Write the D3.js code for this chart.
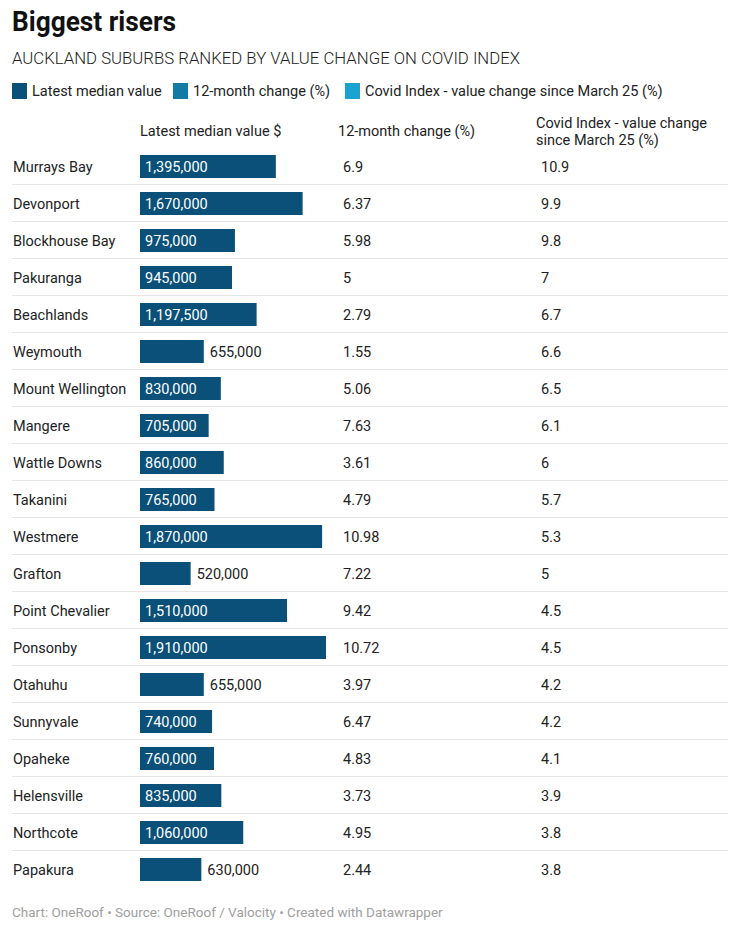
<!DOCTYPE html>
<html><head><meta charset="utf-8">
<script src="https://cdn.jsdelivr.net/npm/d3@7"></script>
<style>
body{margin:0;background:#fff;}
text{font-family:Roboto,"Noto Sans",sans-serif;}
</style></head>
<body><svg id="c" width="740" height="936"></svg>
<script>
const suburbs = ["Murrays Bay","Devonport","Blockhouse Bay","Pakuranga","Beachlands","Weymouth","Mount Wellington","Mangere","Wattle Downs","Takanini","Westmere","Grafton","Point Chevalier","Ponsonby","Otahuhu","Sunnyvale","Opaheke","Helensville","Northcote","Papakura"];
const medianValue = [1395000,1670000,975000,945000,1197500,655000,830000,705000,860000,765000,1870000,520000,1510000,1910000,655000,740000,760000,835000,1060000,630000];
const change12 = ["6.9","6.37","5.98","5","2.79","1.55","5.06","7.63","3.61","4.79","10.98","7.22","9.42","10.72","3.97","6.47","4.83","3.73","4.95","2.44"];
const covidIndex = ["10.9","9.9","9.8","7","6.7","6.6","6.5","6.1","6","5.7","5.3","5","4.5","4.5","4.2","4.2","4.1","3.9","3.8","3.8"];
const legendLabels = ["Latest median value","12-month change (%)","Covid Index - value change since March 25 (%)"];
const legendColors = ["#0b5078","#137aa4","#1aa3d1"];

const svg = d3.select("#c");
const fmt = d3.format(",");

svg.append("text").attr("x",12).attr("y",31).attr("font-size",28).attr("font-weight",700)
  .attr("fill","#111").attr("textLength",164).attr("lengthAdjust","spacingAndGlyphs").text("Biggest risers");
svg.append("text").attr("x",12).attr("y",64).attr("font-size",17).attr("font-weight",300)
  .attr("fill","#222").attr("textLength",508).attr("lengthAdjust","spacingAndGlyphs")
  .text("AUCKLAND SUBURBS RANKED BY VALUE CHANGE ON COVID INDEX");

// legend
const legX = [12,173,345];
legendLabels.forEach((l,i)=>{
  svg.append("rect").attr("x",legX[i]).attr("y",83).attr("width",15).attr("height",16).attr("fill",legendColors[i]);
  svg.append("text").attr("x",legX[i]+20).attr("y",96).attr("font-size",14.5).attr("fill","#222").text(l);
});

// headers
const hdr = svg.append("g").attr("font-size",14.5).attr("fill","#222");
hdr.append("text").attr("x",140).attr("y",136).text("Latest median value $");
hdr.append("text").attr("x",338).attr("y",136).text("12-month change (%)");
hdr.append("text").attr("x",536).attr("y",128).text("Covid Index - value change");
hdr.append("text").attr("x",536).attr("y",145).text("since March 25 (%)");

const y = d3.scaleBand().domain(suburbs).range([148, 148+37*suburbs.length]).paddingInner(0).paddingOuter(0);
const x = d3.scaleLinear().domain([0, 1910000]).range([0, 186]);
const barH = 23;

const rows = svg.append("g").selectAll("g").data(suburbs).join("g")
  .attr("transform", d=>`translate(0,${y(d)})`);

rows.filter((d,i)=>i<suburbs.length-1).append("line")
  .attr("x1",12).attr("x2",728).attr("y1",y.bandwidth()-0.5).attr("y2",y.bandwidth()-0.5)
  .attr("stroke","#e6e6e6").attr("stroke-width",1);

const mid = y.bandwidth()/2;
rows.append("text").attr("x",13).attr("y",mid+5).attr("font-size",14.5).attr("fill","#222").text(d=>d);
rows.append("rect").attr("x",140).attr("y",mid-barH/2).attr("height",barH)
  .attr("width",(d,i)=>x(medianValue[i])).attr("fill","#0b5078");
rows.append("text").attr("y",mid+5).attr("font-size",14.5)
  .attr("x",(d,i)=> x(medianValue[i])>=66 ? 145 : 140 + x(medianValue[i]) + 6)
  .attr("fill",(d,i)=> x(medianValue[i])>=66 ? "#fff" : "#222")
  .text((d,i)=>fmt(medianValue[i]));
rows.append("text").attr("x",343).attr("y",mid+5).attr("font-size",14.5).attr("fill","#222").text((d,i)=>change12[i]);
rows.append("text").attr("x",541).attr("y",mid+5).attr("font-size",14.5).attr("fill","#222").text((d,i)=>covidIndex[i]);

svg.append("text").attr("x",12).attr("y",917).attr("font-size",13.5).attr("fill","#a0a0a0")
  .text("Chart: OneRoof \u2022 Source: OneRoof / Valocity \u2022 Created with Datawrapper");
</script></body></html>
